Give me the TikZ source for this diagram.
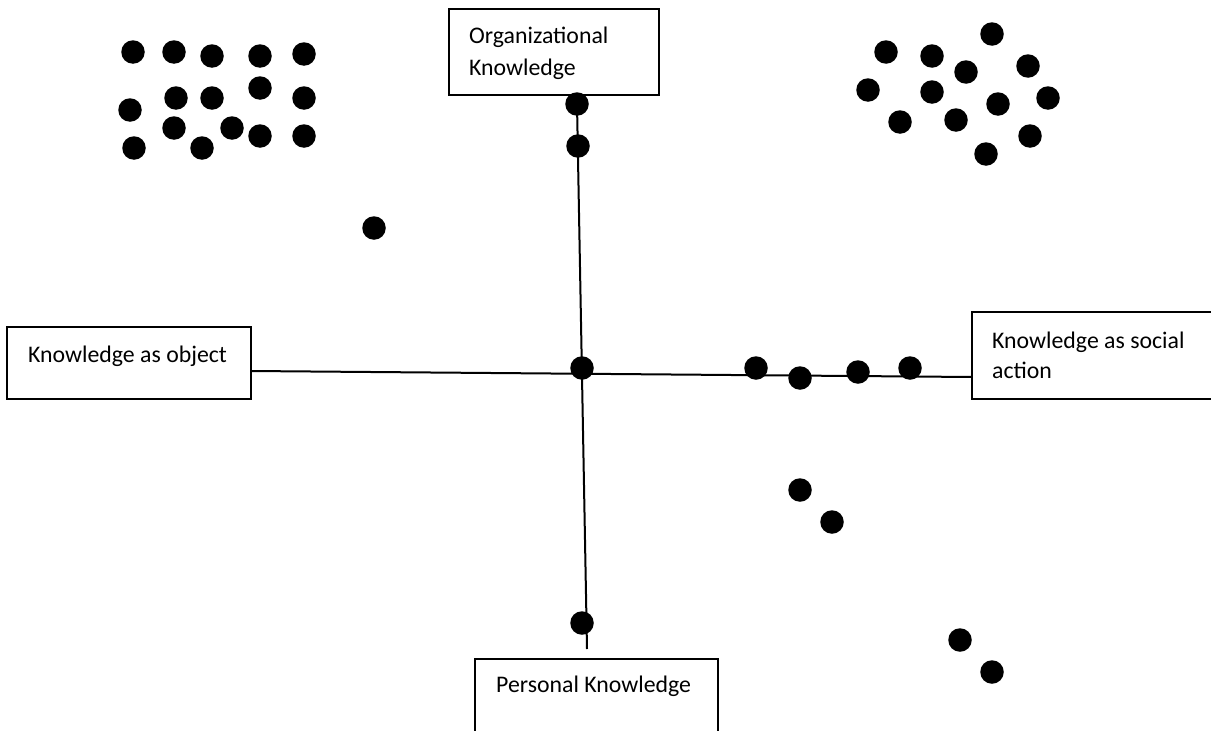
\documentclass[tikz,border=0pt]{standalone}
\usepackage{fontspec}
\setmainfont{Carlito}
\begin{document}
\begin{tikzpicture}[x=1pt,y=-1pt,
  dot/.style={circle,fill=black,minimum size=23.5pt,inner sep=0pt},
  box/.style={draw,line width=1.3pt,inner sep=0pt},
  lbl/.style={anchor=base west,inner sep=0pt,font=\fontsize{23.8}{32}\selectfont},
  axisline/.style={line width=2pt}]
\useasboundingbox (0,0) rectangle (1211,731);
\begin{scope}
\clip (0,0) rectangle (1211,731);
% boxes
\node[box,minimum width=210pt,minimum height=86pt] (org) at (554,52) {};
\node[box,minimum width=244pt,minimum height=72pt] (obj) at (129,363) {};
\node[box,minimum width=258pt,minimum height=87pt] (soc) at (1101,355.5) {};
\node[box,minimum width=243pt,minimum height=102pt] (per) at (596.5,710) {};
\end{scope}
% labels
\node[lbl] (t1) at (469,43) {Organizational};
\node[lbl] (t2) at (469,75) {Knowledge};
\node[lbl] (t3) at (28,362) {Knowledge as object};
\node[lbl] (t4) at (992,348) {Knowledge as social};
\node[lbl] (t5) at (992,378) {action};
\node[lbl] (t6) at (496,692) {Personal Knowledge};
% axes
\coordinate (hl) at (251,371);
\coordinate (hr) at (972,377);
\coordinate (vt) at (577,104);
\coordinate (vb) at (587,649);
\draw[axisline] (hl) -- (hr);
\draw[axisline] (vt) -- (vb);
% dots on axes
\node[dot] (a1) at (577,104) {};
\node[dot] (a2) at (578,146) {};
\node[dot] (c) at (582,368) {};
\node[dot] (a3) at (582,623) {};
\node[dot] (h1) at (756,368) {};
\node[dot] (h2) at (800,378) {};
\node[dot] (h3) at (858,372) {};
\node[dot] (h4) at (910,368) {};
% lone dot
\node[dot] (l1) at (374,228) {};
% top-left cluster
\node[dot] (p1) at (133,52) {};
\node[dot] (p2) at (174,52) {};
\node[dot] (p3) at (212,56) {};
\node[dot] (p4) at (260,56) {};
\node[dot] (p5) at (304,54) {};
\node[dot] (p6) at (130,110) {};
\node[dot] (p7) at (176,98) {};
\node[dot] (p8) at (212,98) {};
\node[dot] (p9) at (260,88) {};
\node[dot] (p10) at (304,98) {};
\node[dot] (p11) at (174,128) {};
\node[dot] (p12) at (232,128) {};
\node[dot] (p13) at (260,136) {};
\node[dot] (p14) at (304,136) {};
\node[dot] (p15) at (134,148) {};
\node[dot] (p16) at (202,148) {};
% top-right cluster
\node[dot] (q1) at (992,34) {};
\node[dot] (q2) at (886,52) {};
\node[dot] (q3) at (932,56) {};
\node[dot] (q4) at (966,72) {};
\node[dot] (q5) at (1028,66) {};
\node[dot] (q6) at (868,90) {};
\node[dot] (q7) at (932,92) {};
\node[dot] (q8) at (998,104) {};
\node[dot] (q9) at (1048,98) {};
\node[dot] (q10) at (900,122) {};
\node[dot] (q11) at (956,120) {};
\node[dot] (q12) at (1030,136) {};
\node[dot] (q13) at (986,154) {};
% bottom-right dots
\node[dot] (r1) at (800,490) {};
\node[dot] (r2) at (832,522) {};
\node[dot] (r3) at (960,640) {};
\node[dot] (r4) at (992,672) {};
\end{tikzpicture}
\end{document}
